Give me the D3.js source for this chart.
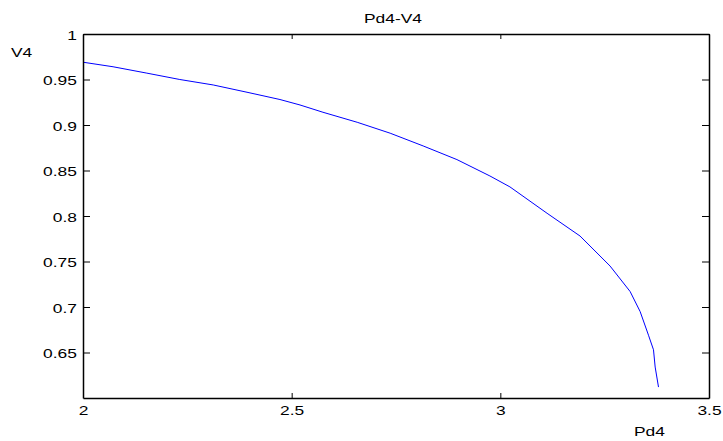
<!DOCTYPE html>
<html>
<head>
<meta charset="utf-8">
<script src="https://cdn.jsdelivr.net/npm/d3@7"></script>
<style>
  body { margin: 0; background: #fff; }
  text { font-family: Arial, "Liberation Sans", sans-serif; }
</style>
</head>
<body>
<div class="container"></div>
<script>
// curve (Pd4 -> V4)
const pd4 = [2.000, 2.072, 2.153, 2.232, 2.312, 2.393, 2.472, 2.520, 2.575, 2.657,
  2.736, 2.815, 2.896, 2.975, 3.023, 3.112, 3.191, 3.263, 3.311, 3.335,
  3.355, 3.367, 3.371, 3.379]
const v4 = [0.969, 0.964, 0.957, 0.950, 0.944, 0.936, 0.928, 0.922, 0.914, 0.903,
  0.891, 0.877, 0.862, 0.844, 0.832, 0.803, 0.778, 0.745, 0.717, 0.695,
  0.669, 0.653, 0.634, 0.612]
const xTicks = [2, 2.5, 3, 3.5]
const yTicks = [0.65, 0.7, 0.75, 0.8, 0.85, 0.9, 0.95, 1]

const W = 723, H = 441
const mLeft = 83, mRight = 709, mTop = 34, mBottom = 398
const sx = 1.45 // text in the picture is stretched sideways

const svg = d3.select('.container').append('svg')
  .attr('width', W)
  .attr('height', H)

const x = d3.scaleLinear().domain([2, 3.5]).range([mLeft, mRight])
const y = d3.scaleLinear().domain([0.6, 1]).range([mBottom, mTop])

const data = pd4.map((d, i) => ({ x: d, y: v4[i] }))

svg.append('path')
  .datum(data)
  .attr('fill', 'none')
  .attr('stroke', '#0000ff')
  .attr('stroke-width', 1)
  .attr('d', d3.line().x(d => x(d.x)).y(d => y(d.y)))

// axes, ticks pointing inward like matlab
const gb = svg.append('g').attr('transform', `translate(0,${mBottom})`)
  .call(d3.axisBottom(x).tickValues(xTicks).tickSizeInner(-5).tickSizeOuter(0).tickFormat(d => String(d)))
gb.selectAll('text').attr('y', 17).attr('dy', 0)

svg.append('g').attr('transform', `translate(0,${mTop})`)
  .call(d3.axisTop(x).tickValues(xTicks).tickSizeInner(-5).tickSizeOuter(0).tickFormat(''))

const gl = svg.append('g').attr('transform', `translate(${mLeft},0)`)
  .call(d3.axisLeft(y).tickValues(yTicks).tickSizeInner(-7).tickSizeOuter(0).tickFormat(d => String(d)))
gl.selectAll('text').attr('x', -4.2).attr('dy', 0).attr('y', 5)

svg.append('g').attr('transform', `translate(${mRight},0)`)
  .call(d3.axisRight(y).tickValues(yTicks).tickSizeInner(-7).tickSizeOuter(0).tickFormat(''))

svg.selectAll('.domain').attr('stroke', '#000').attr('stroke-width', 1.5)
svg.selectAll('.tick line').attr('stroke', '#000').attr('stroke-width', 1)
svg.selectAll('.tick text')
  .attr('fill', '#000')
  .attr('font-size', 12)
  .attr('font-family', 'Arial, "Liberation Sans", sans-serif')
  .attr('transform', `scale(${sx},1)`)

// titles
const label = (tx, ty, s, anchor) => svg.append('text')
  .attr('transform', `translate(${tx},${ty}) scale(${sx},1)`)
  .attr('text-anchor', anchor)
  .attr('font-size', 12)
  .attr('fill', '#000')
  .text(s)

label(393, 23, 'Pd4-V4', 'middle')
label(11, 57, 'V4', 'start')
label(634, 436, 'Pd4', 'start')
</script>
</body>
</html>
